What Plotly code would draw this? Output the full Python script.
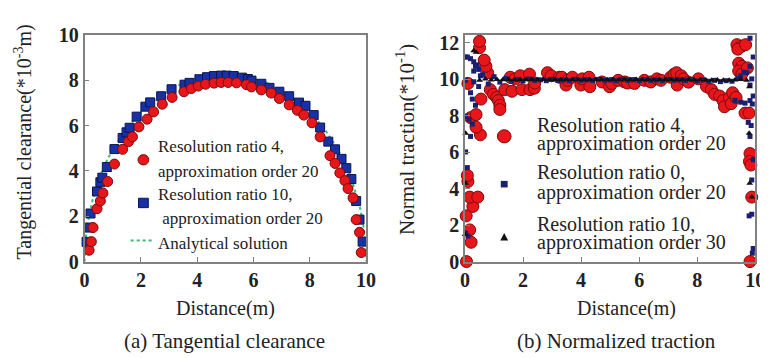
import plotly.graph_objects as go

FONT = "Liberation Serif"

# ---------------- (a) Tangential clearance ----------------
a_red_x = [0.16, 0.24, 0.3, 0.44, 0.56, 0.65, 0.82, 1.06, 1.35, 1.56, 1.7, 1.93, 2.22, 2.45, 2.76, 3.11,
           3.53, 3.79, 4.04, 4.3, 4.6, 4.85, 5.1, 5.4, 5.75, 5.93, 6.28, 6.63, 6.92, 7.27, 7.56, 7.79,
           8.08, 8.37, 8.72, 8.9, 9.07, 9.25, 9.36, 9.54, 9.65, 9.77, 9.83]
a_red_y = [0.5, 0.88, 1.5, 2.33, 2.67, 3.02, 3.53, 4.3, 4.95, 5.29, 5.5, 5.94, 6.28, 6.6, 6.94, 7.24,
           7.49, 7.63, 7.74, 7.82, 7.87, 7.9, 7.9, 7.88, 7.8, 7.7, 7.57, 7.43, 7.19, 6.91, 6.67, 6.46,
           6.12, 5.5, 4.67, 4.33, 3.91, 3.57, 3.22, 2.81, 1.85, 1.29, 0.4]

a_blue_x = [0.07, 0.13, 0.21, 0.44, 0.56, 0.63, 0.79, 1.06, 1.35, 1.49, 1.6, 1.85, 2.16, 2.33, 2.72,
            3.09, 3.55, 3.73, 4.08, 4.35, 4.6, 4.85, 5.05, 5.3, 5.59, 5.8, 5.93, 6.28, 6.57, 6.92, 7.27,
            7.62, 7.85, 8.14, 8.37, 8.66, 8.9, 9.13, 9.3, 9.48, 9.65, 9.77, 9.88]
a_blue_y = [0.87, 1.5, 2.12, 3.09, 3.5, 3.7, 4.17, 4.96, 5.45, 5.7, 5.9, 6.39, 6.83, 7.02, 7.29,
            7.6, 7.8, 7.88, 8.04, 8.13, 8.18, 8.2, 8.2, 8.18, 8.11, 8.05, 7.98, 7.84, 7.66, 7.49, 7.29,
            7.01, 6.87, 6.46, 5.91, 5.29, 4.95, 4.53, 4.12, 3.64, 2.67, 1.85, 0.88]

a_ana_x = [0.0, 0.05, 0.1, 0.2, 0.3, 0.5, 0.75, 1.0, 1.5, 2.0, 2.5, 3.0, 3.5, 4.0, 4.5, 5.0,
           5.5, 6.0, 6.5, 7.0, 7.5, 8.0, 8.5, 9.0, 9.25, 9.5, 9.7, 9.8, 9.9, 9.95, 10.0]
a_ana_y = [0.0, 1.16, 1.64, 2.31, 2.81, 3.6, 4.35, 4.95, 5.89, 6.6, 7.14, 7.56, 7.87, 8.08, 8.21, 8.25,
           8.21, 8.08, 7.87, 7.56, 7.14, 6.6, 5.89, 4.95, 4.35, 3.6, 2.81, 2.31, 1.64, 1.16, 0.0]

# ---------------- (b) Normalized traction ----------------
b_red_x = [0.05, 0.21, 0.16, 0.04, 0.27, 0.16, 0.44, 0.1, 0.08, 0.53, 0.38, 0.19, 0.38, 0.55, 0.1,
           0.78, 0.72, 0.66, 0.5, 0.5,
           0.87, 0.98, 1.09, 1.15, 1.2, 1.2,
           1.37, 1.56, 1.62, 1.73, 1.9, 1.96, 2.22, 2.24, 2.39, 2.4, 2.84, 2.97, 3.25, 3.34, 3.48, 3.54,
           3.7, 3.99, 4.04, 4.27, 4.3, 4.72, 4.98, 5.06, 5.28, 5.5, 5.6, 5.84, 6.18, 6.4, 6.61, 6.75,
           7.08, 7.2, 7.29, 7.31, 7.45, 7.53, 7.7, 8.04, 8.32, 8.49, 8.6, 8.77, 8.89, 8.94, 9.11, 9.17,
           9.22, 9.34,
           9.37, 9.54, 9.4, 9.67, 9.43, 9.54, 9.43, 9.54, 9.73, 9.65, 9.79, 9.82, 9.8, 9.85, 9.88, 9.82]
b_red_y = [0.0, 1.06, 1.74, 2.51, 3.03, 3.54, 3.54, 4.4, 4.73, 6.96, 7.38, 7.9, 8.07, 8.92, 9.78,
           10.37, 10.72, 11.06, 11.74, 12.09,
           9.44, 9.18, 9.01, 8.84, 8.58, 8.35,
           9.44, 10.12, 9.35, 10.03, 10.2, 9.44, 10.29, 9.44, 9.52, 9.8, 10.37, 10.2, 10.12, 10.12, 9.69, 9.95,
           10.12, 9.69, 10.03, 10.12, 9.6, 9.86, 9.6, 9.78, 9.95, 9.86, 9.8, 9.78, 9.95, 9.86, 10.03, 9.95,
           10.12, 10.29, 10.37, 9.69, 10.2, 10.03, 9.85, 10.03, 9.61, 9.44, 9.18, 9.09, 8.84, 8.5, 9.01, 8.67,
           9.27, 9.01,
           11.91, 11.83, 11.66, 11.91, 10.89, 10.72, 10.46, 10.3, 10.63, 8.15, 8.15, 5.93, 5.5, 5.3, 3.54, 0.0]

b_navy_x = [0.02, 0.08, 0.19, 0.3, 0.36, 0.42, 0.47, 0.3, 0.53, 0.02, 0.3, 0.47, 0.19, 0.25, 0.36,
            0.02, 0.14, 0.25, 0.19, 0.02, 0.08, 0.1, 0.02,
            0.6, 0.8, 1.0, 1.2, 1.4, 1.6, 1.8, 2.0, 2.2, 2.4, 2.6, 2.8, 3.0, 3.2, 3.4, 3.6, 3.8, 4.0,
            4.2, 4.4, 4.6, 4.8, 5.0, 5.2, 5.4, 5.6, 5.8, 6.0, 6.2, 6.4, 6.6, 6.8, 7.0, 7.2, 7.4, 7.6,
            7.8, 8.0, 8.2, 8.4, 8.6, 8.8, 9.0, 9.2,
            9.4, 9.5, 9.6, 9.71, 9.82, 9.93, 9.82, 9.88, 9.82, 9.93, 9.82, 9.3, 9.5, 9.65, 9.9,
            9.76, 9.86, 9.82, 9.93, 9.88, 9.88, 9.79, 9.93, 9.9]
b_navy_y = [11.23, 11.23, 11.14, 10.97, 10.72, 10.8, 10.55, 10.46, 10.2, 9.95, 9.87, 9.61, 9.27, 8.92, 8.58,
            7.98, 7.81, 7.55, 6.87, 6.02, 5.16, 1.4, 1.57,
            10.25, 9.75, 10.15, 9.85, 10.05, 9.9, 10.0, 9.92, 10.02, 9.95, 9.98, 9.93, 10.0, 9.95, 9.97, 9.93, 10.0, 9.95,
            9.98, 9.94, 10.0, 9.96, 9.97, 9.93, 10.0, 9.95, 9.98, 9.94, 9.99, 9.95, 9.97, 9.93, 10.0, 9.95, 9.98, 9.94,
            9.99, 9.92, 9.98, 9.9, 9.95, 9.88, 9.93, 9.9,
            10.05, 10.2, 10.4, 10.37, 10.72, 11.23, 12.26, 10.03, 9.69, 9.09, 8.84, 8.85, 8.75, 8.7, 8.65,
            7.64, 7.47, 6.87, 5.59, 4.48, 2.6, 2.51, 0.72, 0.46]

b_tri_x = [0.3, 0.38, 0.02, 0.02, 0.0,
           0.5, 0.7, 0.9, 1.1, 1.3, 1.5, 1.7, 1.9, 2.1, 2.3, 2.5, 2.7, 2.9, 3.1, 3.3, 3.5, 3.7, 3.9,
           4.1, 4.3, 4.5, 4.7, 4.9, 5.1, 5.3, 5.5, 5.7, 5.9, 6.1, 6.3, 6.5, 6.7, 6.9, 7.1, 7.3, 7.5,
           7.7, 7.9, 8.1, 8.3, 8.5, 8.7, 8.9, 9.1, 9.3, 9.5,
           9.7, 9.8, 9.79, 9.81, 9.88]
b_tri_y = [11.57, 11.49, 7.04, 4.3, 1.49,
           9.95, 10.02, 9.97, 10.0, 9.98, 10.0, 9.98, 10.0, 9.99, 10.0, 9.98, 10.0, 9.99, 10.0, 9.98, 10.0, 9.99, 10.0,
           9.98, 10.0, 9.99, 10.0, 9.98, 10.0, 9.99, 10.0, 9.98, 10.0, 9.99, 10.0, 9.98, 10.0, 9.99, 10.0, 9.98, 10.0,
           9.99, 9.97, 9.98, 9.97, 9.96, 9.97, 9.95, 9.96, 9.97, 10.0,
           9.95, 9.6, 7.04, 4.3, 3.54]

x_ticks = [0, 2, 4, 6, 8, 10]
a_y_ticks = [0, 2, 4, 6, 8, 10]
b_y_ticks = [0, 2, 4, 6, 8, 10, 12]

# legend texts (one entry per line)
a_legend_lines = ["Resolution ratio 4,", "approximation order 20",
                  "Resolution ratio 10,", "\u00a0approximation order 20",
                  "Analytical solution"]
b_legend_lines = ["Resolution ratio 4,", "approximation order 20",
                  "Resolution ratio 0,", "approximation order 20",
                  "Resolution ratio 10,", "approximation order 30"]

RED = "#e8161b"
RED_LINE = "#7a0a0a"
BLUE = "#1732a8"
BLUE_LINE = "#0b1450"
NAVY = "#1b1f70"
GREEN = "#3dbb6e"
W, H = 768.0, 358.0


def px(x):
    return x / W


def py(y):
    return 1 - y / H


fig = go.Figure()

# (a) traces
fig.add_trace(go.Scatter(
    x=a_ana_x, y=a_ana_y, mode="lines", name="Analytical solution",
    line=dict(color=GREEN, width=2, dash="dot"), xaxis="x", yaxis="y", cliponaxis=False))
fig.add_trace(go.Scatter(
    x=a_blue_x, y=a_blue_y, mode="markers", name="Resolution ratio 10, approximation order 20",
    marker=dict(symbol="square", size=9, color=BLUE, line=dict(color=BLUE_LINE, width=1)),
    xaxis="x", yaxis="y", cliponaxis=False))
fig.add_trace(go.Scatter(
    x=a_red_x, y=a_red_y, mode="markers", name="Resolution ratio 4, approximation order 20",
    marker=dict(symbol="circle", size=10, color=RED, line=dict(color=RED_LINE, width=1)),
    xaxis="x", yaxis="y", cliponaxis=False))

# (b) traces
fig.add_trace(go.Scatter(
    x=b_red_x, y=b_red_y, mode="markers", name="Resolution ratio 4, approximation order 20",
    marker=dict(symbol="circle", size=12, color=RED, line=dict(color=RED_LINE, width=1)),
    xaxis="x2", yaxis="y2", cliponaxis=False))
fig.add_trace(go.Scatter(
    x=b_navy_x, y=b_navy_y, mode="markers", name="Resolution ratio 0, approximation order 20",
    marker=dict(symbol="square", size=5, color=NAVY),
    xaxis="x2", yaxis="y2", cliponaxis=False))
fig.add_trace(go.Scatter(
    x=b_tri_x, y=b_tri_y, mode="markers", name="Resolution ratio 10, approximation order 30",
    marker=dict(symbol="triangle-up", size=6, color="#111111"),
    xaxis="x2", yaxis="y2", cliponaxis=False))

axis_common = dict(
    showline=True, linecolor="#808080", linewidth=1.5, mirror=True,
    ticks="inside", ticklen=5, tickcolor="#808080", showgrid=False, zeroline=False,
    tickfont=dict(family=FONT, size=20, color="#222222", weight="bold"),
)

YDOM = [0.278, 0.953]

fig.update_layout(
    width=768, height=358,
    margin=dict(l=0, r=0, t=0, b=0),
    paper_bgcolor="white", plot_bgcolor="white",
    font=dict(family=FONT, color="#222222"),
    showlegend=False,
    xaxis=dict(domain=[0.0951, 0.4688], range=[0, 10], tickvals=x_ticks, anchor="y", **axis_common),
    yaxis=dict(domain=YDOM, range=[0, 10], tickvals=a_y_ticks, anchor="x", **axis_common),
    xaxis2=dict(domain=[0.6003, 0.9857], range=[0, 10], tickvals=x_ticks, anchor="y2", **axis_common),
    yaxis2=dict(domain=YDOM, range=[0, 12.45], tickvals=b_y_ticks, anchor="x2", **axis_common),
)

# ---- legend keys (layout decoration) ----
# (a) red circle key
fig.add_shape(type="circle", xref="paper", yref="paper",
              x0=px(133 - 5.5), x1=px(133 + 5.5), y0=py(150 + 5.5), y1=py(150 - 5.5),
              fillcolor=RED, line=dict(color=RED_LINE, width=1))
# (a) blue square key
fig.add_shape(type="rect", xref="paper", yref="paper",
              x0=px(133 - 5), x1=px(133 + 5), y0=py(196 + 5), y1=py(196 - 5),
              fillcolor=BLUE, line=dict(color=BLUE_LINE, width=1))
# (a) analytical dotted key
fig.add_shape(type="line", xref="paper", yref="paper",
              x0=px(120), x1=px(143), y0=py(236), y1=py(236),
              line=dict(color=GREEN, width=2, dash="dot"))
# (b) red circle key
fig.add_shape(type="circle", xref="paper", yref="paper",
              x0=px(501 - 7), x1=px(501 + 7), y0=py(125 + 7), y1=py(125 - 7),
              fillcolor=RED, line=dict(color=RED_LINE, width=1))
# (b) navy square key
fig.add_shape(type="rect", xref="paper", yref="paper",
              x0=px(501 - 3.5), x1=px(501 + 3.5), y0=py(176 + 3.5), y1=py(176 - 3.5),
              fillcolor=NAVY, line=dict(width=0))
# (b) black triangle key
fig.add_shape(type="path", xref="paper", yref="paper",
              path="M {:.5f} {:.5f} L {:.5f} {:.5f} L {:.5f} {:.5f} Z".format(
                  px(497), py(236), px(505), py(236), px(501), py(228)),
              fillcolor="#111111", line=dict(width=0))

a_line_y = [136, 163, 187, 213, 239]
for txt, yy in zip(a_legend_lines, a_line_y):
    fig.add_annotation(text=txt, xref="paper", yref="paper", x=px(146), y=py(yy),
                       showarrow=False, xanchor="left", yanchor="middle",
                       font=dict(family=FONT, size=17, color="#222222"))

b_line_y = [113, 133, 163, 185, 218, 238]
for txt, yy in zip(b_legend_lines, b_line_y):
    fig.add_annotation(text=txt, xref="paper", yref="paper", x=px(532), y=py(yy),
                       showarrow=False, xanchor="left", yanchor="middle",
                       font=dict(family=FONT, size=20, color="#222222"))

ann_font = dict(family=FONT, size=20, color="#222222")
fig.add_annotation(text="Distance(m)", xref="paper", yref="paper", x=0.2826, y=0.1397,
                   showarrow=False, font=ann_font, xanchor="center", yanchor="middle")
fig.add_annotation(text="Distance(m)", xref="paper", yref="paper", x=0.815, y=0.1397,
                   showarrow=False, font=ann_font, xanchor="center", yanchor="middle")
fig.add_annotation(text="(a) Tangential clearance", xref="paper", yref="paper", x=0.2813, y=0.0419,
                   showarrow=False, font=dict(family=FONT, size=21, color="#222222"),
                   xanchor="center", yanchor="middle")
fig.add_annotation(text="(b) Normalized traction", xref="paper", yref="paper", x=0.802, y=0.0419,
                   showarrow=False, font=dict(family=FONT, size=21, color="#222222"),
                   xanchor="center", yanchor="middle")
fig.add_annotation(text="Tangential clearance(*10<sup>-3</sup>m)", xref="paper", yref="paper",
                   x=0.014, y=0.634, textangle=-90, showarrow=False, font=ann_font,
                   xanchor="center", yanchor="middle")
fig.add_annotation(text="Normal traction(*10<sup>-1</sup>)", xref="paper", yref="paper",
                   x=0.521, y=0.641, textangle=-90, showarrow=False,
                   font=dict(family=FONT, size=21, color="#222222"),
                   xanchor="center", yanchor="middle")

fig.write_html("out.html")
